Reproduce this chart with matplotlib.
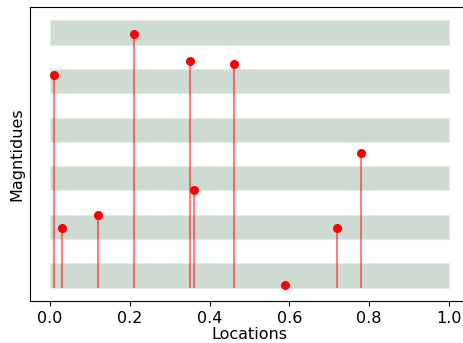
import matplotlib
matplotlib.use('Agg')
import matplotlib.pyplot as plt
import numpy as np

# data
locations = [0.01, 0.03, 0.12, 0.21, 0.35, 0.36, 0.46, 0.59, 0.72, 0.78]
magnitudes = [4.13, 0.97, 1.25, 4.97, 4.41, 1.75, 4.36, -0.20, 0.97, 2.53]
band_levels = [0, 1, 2, 3, 4, 5]
baseline = -0.25

fig = plt.figure(figsize=(4.64, 3.43), dpi=100)
ax = fig.add_axes([30 / 464, 42 / 343, 439 / 464, 294 / 343])

ax.barh(band_levels, 1.0, height=0.5, left=0, color='#cedbd2',
        edgecolor='#e4ece6', linewidth=0.8)
ax.vlines(locations, baseline, magnitudes, color='red', alpha=0.5, linewidth=1.5)
ax.plot(locations, magnitudes, 'o', color='red', markersize=5.5)

ax.set_xlim(-0.05, 1.05)
ax.set_yticks([])
ax.set_xticks([0.0, 0.2, 0.4, 0.6, 0.8, 1.0])
ax.tick_params(axis='x', labelsize=11.5, length=3.5)
ax.set_xlabel('Locations', fontsize=11.5, labelpad=1)
ax.set_ylabel('Magntidues', fontsize=11.5, labelpad=4)

fig.savefig('out.png', dpi=100)
